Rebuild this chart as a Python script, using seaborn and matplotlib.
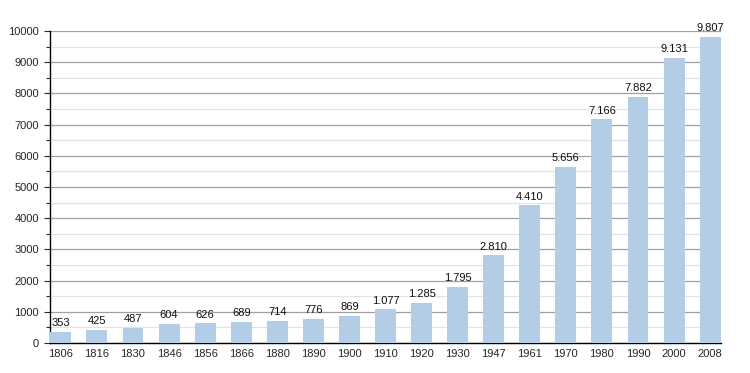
import matplotlib
matplotlib.use("Agg")
import matplotlib.pyplot as plt
import seaborn as sns
import pandas as pd
from matplotlib.ticker import MultipleLocator

years = ["1806", "1816", "1830", "1846", "1856", "1866", "1880", "1890", "1900", "1910",
         "1920", "1930", "1947", "1961", "1970", "1980", "1990", "2000", "2008"]
population = [353, 425, 487, 604, 626, 689, 714, 776, 869, 1077,
              1285, 1795, 2810, 4410, 5656, 7166, 7882, 9131, 9807]
value_labels = ["353", "425", "487", "604", "626", "689", "714", "776", "869", "1.077",
                "1.285", "1.795", "2.810", "4.410", "5.656", "7.166", "7.882", "9.131", "9.807"]

df = pd.DataFrame({"year": years, "pop": population})

sns.set_style("white")
plt.rcParams['font.family'] = ['Liberation Sans', 'DejaVu Sans']

fig = plt.figure(figsize=(7.5, 3.73), dpi=100)
ax = fig.add_axes([50/750, 1-343/373, 671/750, 312/373])

sns.barplot(data=df, x="year", y="pop", color="#b3cde6", saturation=1, width=0.58,
            ax=ax, zorder=3, linewidth=0)

ax.set_ylim(0, 10000)
ax.set_xlim(-0.3, 18.3)
ax.yaxis.set_major_locator(MultipleLocator(1000))
ax.yaxis.set_minor_locator(MultipleLocator(500))
ax.grid(axis="y", which="major", color="#a0a0a0", linewidth=0.9, zorder=0)
ax.grid(axis="y", which="minor", color="#e3e3e3", linewidth=0.9, zorder=0)
ax.set_axisbelow(True)

for s in ["top", "right"]:
    ax.spines[s].set_visible(False)
ax.spines["left"].set_color("black")
ax.spines["bottom"].set_color("black")
ax.spines["left"].set_linewidth(1)
ax.spines["bottom"].set_linewidth(1)

ax.tick_params(axis="y", which="major", left=True, length=4, width=0.8, labelsize=8, pad=4)
ax.tick_params(axis="y", which="minor", left=True, length=3, width=0.8)
ax.tick_params(axis="x", bottom=False, labelsize=8, pad=1)
ax.set_xlabel("")
ax.set_ylabel("")

for i, (v, lab) in enumerate(zip(population, value_labels)):
    ax.text(i, v + 120, lab, ha="center", va="bottom", fontsize=8, color="#111111", zorder=4)

fig.savefig("out.png", dpi=100)
